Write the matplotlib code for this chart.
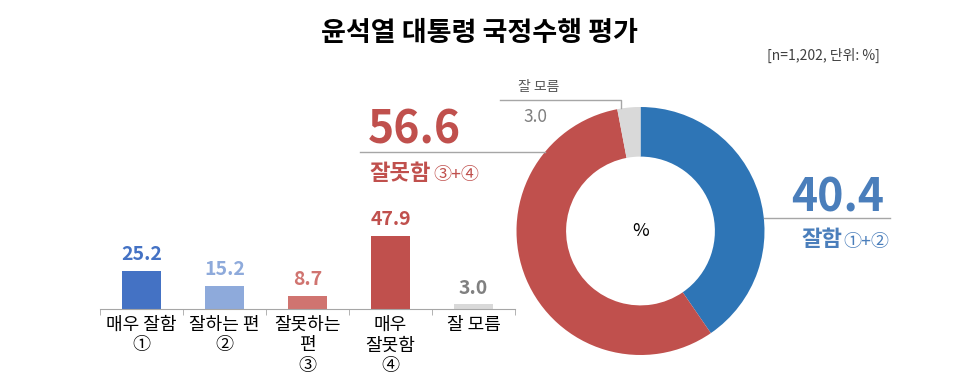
import matplotlib
matplotlib.use('Agg')
import matplotlib.pyplot as plt

plt.rcParams['font.family'] = ['Noto Sans CJK KR', 'DejaVu Sans']

# 데이터
categories = ['매우 잘함\n①', '잘하는 편\n②', '잘못하는\n편\n③', '매우\n잘못함\n④', '잘 모름']
values = [25.2, 15.2, 8.7, 47.9, 3.0]
bar_colors = ['#4472C4', '#8EAADB', '#D07470', '#C0504D', '#D9D9D9']
label_colors = ['#4472C4', '#8EAADB', '#D07470', '#C0504D', '#808080']

donut_labels = ['잘함', '잘못함', '잘 모름']
donut_values = [40.4, 56.6, 3.0]
donut_colors = ['#2E75B6', '#C0504D', '#D9D9D9']

W, H = 960, 386
fig = plt.figure(figsize=(W / 100, H / 100), dpi=100)


def box(x0, y0, x1, y1):
    # 픽셀 좌표(위에서 아래) -> figure 비율
    return [x0 / W, 1 - y1 / H, (x1 - x0) / W, (y1 - y0) / H]


# 막대 그래프
ax = fig.add_axes(box(100, 200, 515, 309))
x = range(len(values))
ax.bar(x, values, width=0.46, color=bar_colors)
ax.set_xlim(-0.5, len(values) - 0.5)
ax.set_ylim(0, 109 / 1.515)
for i, v in enumerate(values):
    ax.annotate(f'{v:.1f}', (i, v), xytext=(0, 5), textcoords='offset points',
                ha='center', va='bottom', fontsize=14, fontweight='bold',
                color=label_colors[i])
for s in ['top', 'left', 'right']:
    ax.spines[s].set_visible(False)
ax.spines['bottom'].set_color('#A6A6A6')
ax.set_yticks([])
ax.set_xticks(list(x))
ax.set_xticklabels(categories, fontsize=13, linespacing=1.18, va='top')
ax.set_xticks([i - 0.5 for i in range(len(values) + 1)], minor=True)
ax.tick_params(axis='x', which='major', length=0, pad=5)
ax.tick_params(axis='x', which='minor', length=4, color='#A6A6A6')

# 도넛 차트
r = 124
cx, cy = 640.5, 231
pax = fig.add_axes(box(cx - r, cy - r, cx + r, cy + r))
pax.pie(donut_values, colors=donut_colors, startangle=90, counterclock=False,
        radius=1, wedgeprops=dict(width=0.4, linewidth=0))
pax.set_xlim(-1, 1)
pax.set_ylim(-1, 1)
pax.set_aspect('auto')
pax.axis('off')
pax.text(0, 0, '%', ha='center', va='center', fontsize=13)

# 주석용 오버레이
ov = fig.add_axes([0, 0, 1, 1], facecolor='none')
ov.set_xlim(0, W)
ov.set_ylim(H, 0)
ov.axis('off')

ov.text(479, 33, '윤석열 대통령 국정수행 평가', ha='center', va='center',
        fontsize=19.5, fontweight='bold', color='black')
ov.text(880, 55, '[n=1,202, 단위: %]', ha='right', va='center',
        fontsize=10, color='#404040')

line_c = '#A6A6A6'
# 잘못함
ov.plot([360, 545], [152, 152], color=line_c, lw=1)
ov.text(368, 131, f'{donut_values[1]:.1f}', ha='left', va='center',
        fontsize=32, fontweight='bold', color='#C0504D')
ov.text(369, 173, donut_labels[1], ha='left', va='center',
        fontsize=16, fontweight='bold', color='#C0504D')
ov.text(433, 175, '③+④', ha='left', va='center', fontsize=13, color='#C0504D')

# 잘함
ov.plot([764, 890], [218, 218], color=line_c, lw=1)
ov.text(884, 199, f'{donut_values[0]:.1f}', ha='right', va='center',
        fontsize=32, fontweight='bold', color='#4A7EBB')
ov.text(801, 240, donut_labels[0], ha='left', va='center',
        fontsize=16, fontweight='bold', color='#4A7EBB')
ov.text(843, 242, '①+②', ha='left', va='center', fontsize=13, color='#4A7EBB')

# 잘 모름
ov.plot([500, 621, 621], [100, 100, 108], color=line_c, lw=1)
ov.text(539, 87, donut_labels[2], ha='center', va='center',
        fontsize=10, color='#595959')
ov.text(535, 117, f'{donut_values[2]:.1f}', ha='center', va='center',
        fontsize=12.5, color='#7F7F7F')

fig.savefig('out.png', dpi=100)
